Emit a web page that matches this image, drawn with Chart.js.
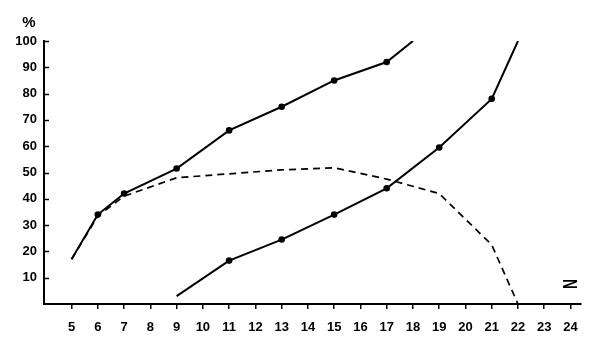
<!DOCTYPE html>
<html><head><meta charset="utf-8">
<script src="https://cdn.jsdelivr.net/npm/chart.js@4"></script>
<style>html,body{margin:0;padding:0;background:#fff}</style>
</head><body>
<canvas id="c" width="600" height="350"></canvas>
<script>
const upperX = [5, 6, 7, 9, 11, 13, 15, 17, 18];
const upperY = [17, 34, 42, 51.5, 66, 75, 85, 92, 100];
const lowerX = [9, 11, 13, 15, 17, 19, 21, 22];
const lowerY = [3, 16.5, 24.5, 34, 44, 59.5, 78, 100];
const dashedX = [5, 6, 7, 9, 11, 13, 15, 17, 19, 21, 22];
const dashedY = [17, 33.5, 41, 48, 49.5, 51, 51.8, 47.5, 42, 22.5, 0];
const xTickLabels = [5,6,7,8,9,10,11,12,13,14,15,16,17,18,19,20,21,22,23,24];
const yTickLabels = [10,20,30,40,50,60,70,80,90,100];
const yUnit = '%';
const xUnit = 'N';

const FONT = {family: '"Liberation Sans", Arial, sans-serif', weight: 'bold', size: 13};
const pts = (xs, ys) => xs.map((x, i) => ({x, y: ys[i]}));
const endsHidden = xs => xs.map((x, i) => (i === 0 || i === xs.length - 1) ? 0 : 3.3);

const extras = {
  id: 'extras',
  afterDraw(chart) {
    const c = chart.ctx, a = chart.chartArea, ys = chart.scales.y;
    c.save();
    c.strokeStyle = '#000'; c.lineWidth = 1.5;
    yTickLabels.forEach(v => {
      const p = Math.round(ys.getPixelForValue(v)) + 0.5;
      c.beginPath(); c.moveTo(a.left, p); c.lineTo(a.left + 5, p); c.stroke();
    });
    c.fillStyle = '#000';
    c.font = 'bold 15px "Liberation Sans", Arial, sans-serif';
    c.textAlign = 'center'; c.textBaseline = 'middle';
    c.fillText(yUnit, 29, 23);
    c.translate(571, 284);
    c.rotate(-Math.PI / 2);
    c.scale(0.65, 1);
    c.font = 'bold 21px "Liberation Sans", Arial, sans-serif';
    c.fillText(xUnit, 0, 0);
    c.restore();
  }
};

new Chart(document.getElementById('c'), {
  type: 'line',
  data: {
    datasets: [
      {data: pts(upperX, upperY), borderColor: '#000', borderWidth: 2, pointRadius: endsHidden(upperX),
       pointBackgroundColor: '#000', pointBorderColor: '#000', pointBorderWidth: 0, tension: 0},
      {data: pts(lowerX, lowerY), borderColor: '#000', borderWidth: 2, pointRadius: endsHidden(lowerX),
       pointBackgroundColor: '#000', pointBorderColor: '#000', pointBorderWidth: 0, tension: 0},
      {data: pts(dashedX, dashedY), borderColor: '#000', borderWidth: 1.7, borderDash: [7, 5],
       pointRadius: 0, tension: 0}
    ]
  },
  options: {
    responsive: false, animation: false, devicePixelRatio: 1,
    layout: {autoPadding: false, padding: {left: 0, top: 41, right: 19, bottom: 0}},
    plugins: {legend: {display: false}, tooltip: {enabled: false}},
    scales: {
      x: {
        type: 'linear', min: 3.95, max: 24.4,
        afterBuildTicks: s => { s.ticks = xTickLabels.map(v => ({value: v})); },
        afterFit: s => { s.height = 46; },
        grid: {drawOnChartArea: false, drawTicks: true, tickLength: 5, color: '#000', lineWidth: 1.5},
        border: {display: true, color: '#000', width: 2},
        ticks: {color: '#000', font: FONT, padding: 11, maxRotation: 0, autoSkip: false}
      },
      y: {
        min: 0, max: 100,
        afterBuildTicks: s => { s.ticks = yTickLabels.map(v => ({value: v})); },
        afterFit: s => { s.width = 44; },
        grid: {drawOnChartArea: false, drawTicks: false},
        border: {display: true, color: '#000', width: 2},
        ticks: {color: '#000', font: FONT, padding: 7}
      }
    }
  },
  plugins: [extras]
});
</script>
</body></html>
